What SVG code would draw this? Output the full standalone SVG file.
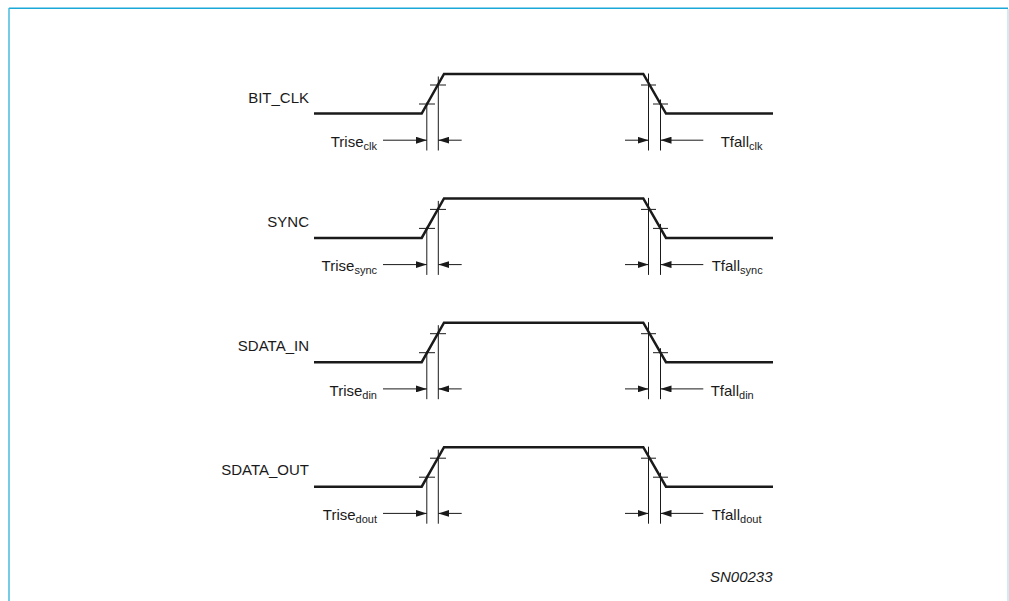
<svg xmlns="http://www.w3.org/2000/svg" width="1009" height="601" viewBox="0 0 1009 601">
<style>
.sig{fill:none;stroke:#1a1a1a;stroke-width:2.5;stroke-linejoin:miter}
.thin{fill:none;stroke:#1a1a1a;stroke-width:1}
.dim{fill:none;stroke:#1a1a1a;stroke-width:1;marker-end:url(#ah)}
.lbl{font-family:"Liberation Sans",Arial,sans-serif;font-size:15px;fill:#1a1a1a}
.sub{font-size:11px}
</style>
<defs>
<marker id="ah" viewBox="0 0 11 7" refX="11" refY="3.5" markerWidth="11" markerHeight="7" markerUnits="userSpaceOnUse" orient="auto">
<path d="M0,0 L11,3.5 L0,7 z" fill="#1a1a1a"/>
</marker>
<g id="wave">
<polyline class="sig" points="314,0 421.7,0 444,-39.5 643.3,-39.5 666,0 773,0"/>
<line class="thin" x1="419" y1="-9.5" x2="435" y2="-9.5"/>
<line class="thin" x1="430" y1="-28.5" x2="446" y2="-28.5"/>
<line class="thin" x1="426.8" y1="-11" x2="426.8" y2="37"/>
<line class="thin" x1="438.3" y1="-37" x2="438.3" y2="37"/>
<line class="thin" x1="641" y1="-28.5" x2="656" y2="-28.5"/>
<line class="thin" x1="653" y1="-9.5" x2="668" y2="-9.5"/>
<line class="thin" x1="648.5" y1="-40" x2="648.5" y2="37"/>
<line class="thin" x1="660.5" y1="-14" x2="660.5" y2="37"/>
<line class="dim" x1="383" y1="26.7" x2="426.8" y2="26.7"/>
<line class="dim" x1="461.7" y1="26.7" x2="438.3" y2="26.7"/>
<line class="dim" x1="625" y1="26.7" x2="648.5" y2="26.7"/>
<line class="dim" x1="703.3" y1="26.7" x2="660.5" y2="26.7"/>
</g>
</defs>
<g id="frame" fill="none">
<line x1="9" y1="8.3" x2="1008" y2="8.3" stroke="#1aa8d8" stroke-width="1.4"/>
<line x1="9" y1="8" x2="9" y2="601" stroke="#3cb6dc" stroke-width="1.4"/>
<line x1="1008" y1="9" x2="1008" y2="601" stroke="#b8e6f2" stroke-width="1.4"/>
</g>
<g id="connectors">
<use href="#wave" transform="translate(0,113.5)"/>
<use href="#wave" transform="translate(0,237.9)"/>
<use href="#wave" transform="translate(0,362.2)"/>
<use href="#wave" transform="translate(0,486.7)"/>
</g>
<g id="bit_clk">
<text class="lbl" x="309" y="102.5" text-anchor="end">BIT_CLK</text>
<text class="lbl" x="377" y="147" text-anchor="end">Trise<tspan class="sub" dy="3">clk</tspan></text>
<text class="lbl" x="720.7" y="147">Tfall<tspan class="sub" dy="3">clk</tspan></text>
</g>
<g id="sync">
<text class="lbl" x="309" y="226.7" text-anchor="end">SYNC</text>
<text class="lbl" x="377" y="271.4" text-anchor="end">Trise<tspan class="sub" dy="3">sync</tspan></text>
<text class="lbl" x="711.7" y="271.4">Tfall<tspan class="sub" dy="3">sync</tspan></text>
</g>
<g id="sdata_in">
<text class="lbl" x="309" y="351" text-anchor="end">SDATA_IN</text>
<text class="lbl" x="377" y="395.7" text-anchor="end">Trise<tspan class="sub" dy="3">din</tspan></text>
<text class="lbl" x="710.7" y="395.7">Tfall<tspan class="sub" dy="3">din</tspan></text>
</g>
<g id="sdata_out">
<text class="lbl" x="309" y="475.3" text-anchor="end">SDATA_OUT</text>
<text class="lbl" x="377" y="520.2" text-anchor="end">Trise<tspan class="sub" dy="3">dout</tspan></text>
<text class="lbl" x="711.7" y="520.2">Tfall<tspan class="sub" dy="3">dout</tspan></text>
</g>
<g id="caption">
<text class="lbl" x="710" y="581.5" font-style="italic">SN00233</text>
</g>
</svg>
